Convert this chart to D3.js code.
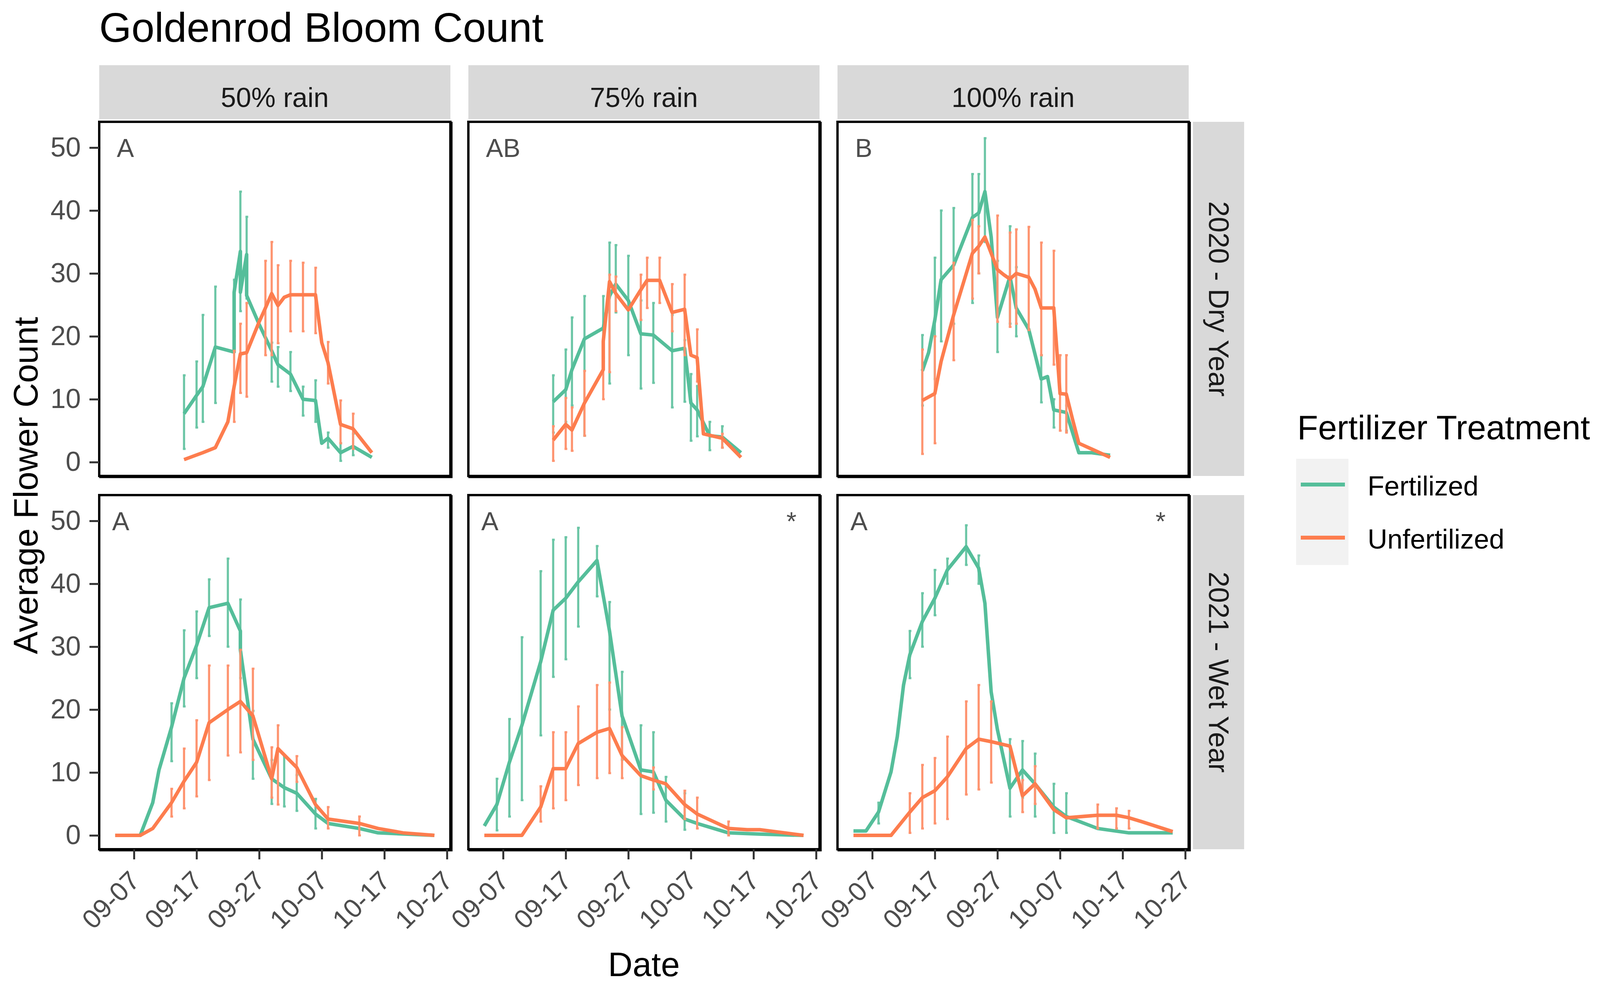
<!DOCTYPE html>
<html>
<head>
<meta charset="utf-8">
<script src="https://cdn.jsdelivr.net/npm/d3@7"></script>
<style>
    body {margin: 0; background: #fff;}
    svg {display: block; font-family: "Liberation Sans", Arial, sans-serif;}
</style>
</head>
<body>
<div id="chart"></div>
<script>
const rainLevels = ["50% rain", "75% rain", "100% rain"];
const yearLabels = ["2020 - Dry Year", "2021 - Wet Year"];
const treatments = ["Fertilized", "Unfertilized"];
const xTickLabels = ["09-07", "09-17", "09-27", "10-07", "10-17", "10-27"];
const yTickValues = [0, 10, 20, 30, 40, 50];
const groupLetters = [["A", "AB", "B"], ["A", "A", "A"]];
const starMarks = [["", "", ""], ["", "*", "*"]];

// [date, mean, lower, upper]  (lower/upper only where an error bar is drawn)
const dry50Fert = [
    ["09-15", 7.7, 2.1, 13.8], ["09-17", 10.6, 5.5, 16], ["09-18", 12, 6.4, 23.4], ["09-20", 18.3, 9.4, 27.9],
    ["09-23", 17.5], ["09-23", 27, 20, 29], ["09-24", 33.5, 24, 43], ["09-24", 27], ["09-25", 33, 26, 39],
    ["09-25", 26.5], ["09-27", 21.9], ["09-29", 17.7, 12.8, 19], ["09-30", 15.5, 12, 18.3],
    ["10-02", 14, 11.3, 17.5], ["10-04", 10, 7.4, 12], ["10-06", 9.8, 6.4, 13], ["10-07", 3.0],
    ["10-08", 3.8, 2.3, 4.7], ["10-10", 1.5, 0.2, 3.0], ["10-12", 2.5, 1.1, 4.5], ["10-15", 0.75]
];
const dry50Unfert = [
    ["09-15", 0.4], ["09-18", 1.5], ["09-20", 2.3], ["09-22", 6.4], ["09-23", 12, 6.4, 17.7],
    ["09-24", 17.2, 11, 22], ["09-25", 17.4, 10.4, 25.3], ["09-27", 22.3], ["09-28", 24.5, 17, 32],
    ["09-29", 26.8, 17, 35], ["09-30", 24.9, 18.9, 31.3], ["10-01", 26.2], ["10-02", 26.6, 20.8, 32],
    ["10-04", 26.6, 20.8, 31.7], ["10-06", 26.6, 20.5, 30.9], ["10-07", 19], ["10-08", 15.8, 12.5, 19.1],
    ["10-10", 6, 3, 9.8], ["10-12", 5.3, 2.1, 7.7], ["10-15", 1.5]
];
const dry75Fert = [
    ["09-15", 9.6, 4.7, 13.8], ["09-17", 11.5, 6.4, 17.9], ["09-18", 14.7, 9, 23], ["09-20", 19.6, 4.2, 26.4],
    ["09-23", 21.3, 16, 26.4], ["09-24", 26.4, 12.5, 34.9], ["09-25", 28.3, 23.8, 34.5], ["09-27", 25.7, 17, 32.8],
    ["09-29", 20.4, 11.7, 25.7], ["10-01", 20.2, 12.6, 25.3], ["10-04", 17.7, 8.7, 23.4], ["10-06", 18.1, 9.6, 19.4],
    ["10-07", 9.4, 3.4, 14], ["10-08", 8.3, 4.1, 12.1], ["10-10", 4.2, 1.9, 6.4], ["10-12", 4.0, 2.3, 5.7],
    ["10-15", 1.5]
];
const dry75Unfert = [
    ["09-15", 3.5, 0.2, 5.7], ["09-17", 6, 2.1, 10.2], ["09-18", 5.1, 1.8, 8.7], ["09-20", 9.4, 4.2, 14.5],
    ["09-23", 14.7, 10, 16.6], ["09-23", 19.2], ["09-24", 28.7, 14.3, 29.8], ["09-25", 26.8, 24, 29.5],
    ["09-27", 24.2], ["09-29", 27.4, 22.6, 29.8], ["09-30", 28.9, 24.5, 32.5], ["10-02", 28.9, 25.3, 32.5],
    ["10-04", 23.8, 20.8, 28.3], ["10-06", 24.3, 17, 29.8], ["10-07", 17], ["10-08", 16.6, 12.8, 21.1],
    ["10-09", 4.5], ["10-12", 3.8, 2.3, 4.5], ["10-15", 0.75]
];
const dry100Fert = [
    ["09-15", 14.5, 9, 20.2], ["09-16", 17.4], ["09-17", 22.6, 13.2, 32.5], ["09-18", 29, 19.2, 40],
    ["09-20", 31.3, 22, 40.4], ["09-23", 38.9, 25.3, 45.8], ["09-24", 39.6, 30, 45.8], ["09-25", 43, 35, 51.5],
    ["09-26", 35.8], ["09-27", 23, 17.5, 32], ["09-29", 29.5, 22, 37.5], ["09-30", 24.5, 20, 31],
    ["10-02", 21.1], ["10-04", 13.2, 9.5, 17], ["10-05", 13.6], ["10-06", 8.3, 5.5, 10], ["10-08", 7.9, 5, 9],
    ["10-10", 1.5], ["10-12", 1.5], ["10-15", 1.1]
];
const dry100Unfert = [
    ["09-15", 9.8, 1.3, 17.9], ["09-17", 10.9, 3, 20], ["09-18", 16], ["09-20", 23.4, 16.2, 31.7],
    ["09-23", 33.2, 26, 38.5], ["09-24", 34.3, 30, 37.5], ["09-25", 35.8], ["09-27", 30.6, 22.3, 39.2],
    ["09-28", 29.8], ["09-29", 29.1, 21.5, 36.5], ["09-30", 30, 22, 37], ["10-02", 29.4, 21, 37.4],
    ["10-03", 27.5], ["10-04", 24.5, 17, 34.9], ["10-06", 24.5, 15.5, 33.6], ["10-07", 10.9, 5, 17],
    ["10-08", 10.8, 4.7, 17], ["10-09", 6.8], ["10-10", 3], ["10-15", 0.75]
];
const wet50Fert = [
    ["09-04", 0], ["09-08", 0], ["09-10", 5.2], ["09-11", 10.4], ["09-13", 17.2, 11.8, 21],
    ["09-15", 25, 20.5, 32.6], ["09-17", 30.2, 25, 35.6], ["09-19", 36.2, 31.7, 40.7], ["09-22", 36.9, 30, 44],
    ["09-24", 32.5, 25, 37.5], ["09-24", 29.5], ["09-26", 15.3, 9, 19.8], ["09-29", 9, 5, 12],
    ["10-01", 7.6, 4.6, 12.6], ["10-03", 6.7, 3.9, 9.6], ["10-06", 3.4, 1.1, 5.8], ["10-08", 1.9],
    ["10-13", 1.1], ["10-16", 0.4], ["10-25", 0]
];
const wet50Unfert = [
    ["09-04", 0], ["09-08", 0], ["09-10", 1.1], ["09-13", 5.2, 3, 7.4], ["09-15", 8.6, 4.3, 13.8],
    ["09-17", 11.6, 6.2, 18.3], ["09-19", 17.9, 8.8, 27], ["09-22", 20, 12.7, 27], ["09-24", 21.3, 13.2, 29.5],
    ["09-26", 19, 12, 26.5], ["09-29", 9, 6, 14], ["09-30", 13.8, 4.9, 17.5], ["10-03", 10.8, 8.5, 12.6],
    ["10-06", 4.9], ["10-08", 2.6, 1.1, 4.5], ["10-13", 1.9, 0, 3], ["10-16", 1.1], ["10-20", 0.4], ["10-25", 0]
];
const wet75Fert = [
    ["09-04", 1.5], ["09-06", 4.9, 0.8, 9], ["09-08", 11.6, 3, 18.5], ["09-10", 17.5, 5.6, 31.5],
    ["09-13", 27.6, 15.9, 42], ["09-15", 35.8, 25.2, 47], ["09-17", 37.7, 28, 47.4], ["09-19", 40.3, 33.2, 48.9],
    ["09-22", 43.7, 38, 46], ["09-24", 32.5, 20, 37.1], ["09-26", 19, 12, 26], ["09-29", 10.4, 3.4, 17.5],
    ["10-01", 10.1, 3.6, 16.4], ["10-03", 5.6, 2.2, 9.3], ["10-06", 2.6, 0.9, 6.7], ["10-08", 1.9],
    ["10-13", 0.4], ["10-18", 0.2], ["10-25", 0]
];
const wet75Unfert = [
    ["09-04", 0], ["09-10", 0], ["09-13", 4.5, 2.2, 7.8], ["09-15", 10.6, 4.3, 16.4], ["09-17", 10.6, 5.6, 16.4],
    ["09-19", 14.6, 8, 20.5], ["09-22", 16.4, 9.1, 23.9], ["09-24", 17, 9.9, 24.3], ["09-26", 12.7, 9.1, 17.2],
    ["09-29", 9.5], ["10-01", 8.8, 7.3, 10.8], ["10-03", 8.2], ["10-06", 4.9, 2.6, 7.1], ["10-08", 3.4, 1.1, 6],
    ["10-13", 1.1, 0, 2.2], ["10-16", 0.9], ["10-18", 0.9], ["10-22", 0.4], ["10-25", 0]
];
const wet100Fert = [
    ["09-04", 0.7], ["09-06", 0.7], ["09-08", 3.7, 1.9, 5.2], ["09-10", 10.1], ["09-11", 15.7], ["09-12", 23.9],
    ["09-13", 28.7, 25, 32.5], ["09-15", 34, 30, 38.5], ["09-17", 37.7, 35, 42.2], ["09-19", 42.2, 40, 44],
    ["09-22", 45.9, 43, 49.3], ["09-24", 42.5, 40, 44.5], ["09-25", 36.9], ["09-26", 22.8], ["09-27", 16.8],
    ["09-29", 7.5, 3, 15.3], ["10-01", 10.4, 6, 15], ["10-03", 8.2, 3, 13], ["10-06", 4.5, 0.4, 8.2],
    ["10-08", 3, 0.4, 6.7], ["10-13", 1.1], ["10-18", 0.4], ["10-25", 0.4]
];
const wet100Unfert = [
    ["09-04", 0], ["09-10", 0], ["09-13", 3.7, 0.4, 6.7], ["09-15", 6, 1.1, 11.2], ["09-17", 7.1, 1.9, 12.3],
    ["09-19", 9.3, 2.6, 15.7], ["09-22", 13.8, 6.5, 21.3], ["09-24", 15.3, 7.3, 23.9], ["09-26", 14.9, 8.4, 21.3],
    ["09-29", 14.2], ["10-01", 6.3, 3.7, 8.8], ["10-03", 8.2, 5, 11], ["10-06", 4.1], ["10-08", 2.8],
    ["10-13", 3.2, 1.1, 4.9], ["10-16", 3.2, 1.1, 4.3], ["10-18", 2.8, 1.1, 3.9], ["10-20", 2.2], ["10-25", 0.6]
];

const panels = [
    [[dry50Fert, dry50Unfert], [dry75Fert, dry75Unfert], [dry100Fert, dry100Unfert]],
    [[wet50Fert, wet50Unfert], [wet75Fert, wet75Unfert], [wet100Fert, wet100Unfert]]
];

const width = 4107,
    height = 2533,
    panelW = 899,
    panelH = 907,
    colLeft = [254, 1199, 2144],
    rowTop = [312, 1268];

const lineColors = ["#55BE9A", "#FD7D4E"],
    barColors = ["#6CC6A6", "#FE9470"];
const parseDate = d3.timeParse("%m-%d");

// every point's date, to pad the x range like ggplot does (5% each side)
const allDates = panels.flat(3).map(d => parseDate(d[0]));
const [dMin, dMax] = d3.extent(allDates);
const pad = (dMax - dMin) * 0.05;

const x = d3.scaleTime()
    .domain([new Date(+dMin - pad), new Date(+dMax + pad)])
    .range([0, panelW]);

const y = d3.scaleLinear()
    .domain([-2.2, 54.1])
    .range([panelH, 0]);

const svg = d3.select("#chart").append("svg")
    .attr("width", width)
    .attr("height", height);

svg.append("rect").attr("width", width).attr("height", height).attr("fill", "#fff");

// title
svg.append("text")
    .attr("x", colLeft[0]).attr("y", 107)
    .attr("font-size", 106)
    .attr("fill", "#000")
    .text("Goldenrod Bloom Count");

// top strips
rainLevels.forEach((lab, c) => {
    svg.append("rect")
        .attr("x", colLeft[c]).attr("y", 167)
        .attr("width", panelW).attr("height", 138)
        .attr("fill", "#D9D9D9");
    svg.append("text")
        .attr("x", colLeft[c] + panelW / 2).attr("y", 250)
        .attr("text-anchor", "middle").attr("dominant-baseline", "central")
        .attr("font-size", 70).attr("fill", "#1A1A1A")
        .text(lab);
});

// right strips
yearLabels.forEach((lab, r) => {
    const sx = colLeft[2] + panelW + 11;
    svg.append("rect")
        .attr("x", sx).attr("y", rowTop[r])
        .attr("width", 131).attr("height", panelH)
        .attr("fill", "#D9D9D9");
    svg.append("text")
        .attr("transform", "translate(" + (sx + 66) + "," + (rowTop[r] + panelH / 2) + ") rotate(90)")
        .attr("text-anchor", "middle").attr("dominant-baseline", "central")
        .attr("font-size", 72).attr("fill", "#1A1A1A")
        .text(lab);
});

const line = d3.line()
    .x(d => x(parseDate(d[0])))
    .y(d => y(d[1]));

panels.forEach((row, r) => {
    row.forEach((series, c) => {
        const g = svg.append("g")
            .attr("transform", "translate(" + colLeft[c] + "," + rowTop[r] + ")");

        series.forEach((data, i) => {
            const bars = data.filter(d => d.length > 2);
            const eb = g.append("g").attr("stroke", barColors[i]).attr("stroke-width", 5.5);
            eb.selectAll("line.bar")
                .data(bars)
                .enter().append("line")
                .attr("class", "bar")
                .attr("x1", d => x(parseDate(d[0])))
                .attr("x2", d => x(parseDate(d[0])))
                .attr("y1", d => y(d[2]))
                .attr("y2", d => y(d[3]));
            // tiny caps
            [2, 3].forEach(k => {
                eb.selectAll("line.cap" + k)
                    .data(bars)
                    .enter().append("line")
                    .attr("class", "cap" + k)
                    .attr("x1", d => x(parseDate(d[0])) - 3)
                    .attr("x2", d => x(parseDate(d[0])) + 4)
                    .attr("y1", d => y(d[k]))
                    .attr("y2", d => y(d[k]));
            });

            g.append("path")
                .datum(data)
                .attr("d", line)
                .attr("fill", "none")
                .attr("stroke", lineColors[i])
                .attr("stroke-width", 9)
                .attr("stroke-linejoin", "round");
        });

        // panel border
        g.append("rect")
            .attr("width", panelW).attr("height", panelH)
            .attr("fill", "none").attr("stroke", "#000").attr("stroke-width", 6);
        g.append("path")
            .attr("d", "M0," + (panelH + 3) + "H" + (panelW + 3) + "V0")
            .attr("fill", "none").attr("stroke", "#000").attr("stroke-width", 5);

        // letters
        g.append("text")
            .attr("x", r === 0 ? 45 : 33).attr("y", 90)
            .attr("font-size", 66).attr("fill", "#4D4D4D")
            .text(groupLetters[r][c]);
        g.append("text")
            .attr("x", panelW - 72).attr("y", 90)
            .attr("text-anchor", "middle")
            .attr("font-size", 66).attr("fill", "#4D4D4D")
            .text(starMarks[r][c]);

        // y axis on the first column
        if (c === 0) {
            const ya = g.append("g")
                .call(d3.axisLeft(y).tickValues(yTickValues).tickSize(25).tickPadding(22));
            ya.select(".domain").remove();
            ya.selectAll(".tick line").attr("stroke", "#333").attr("stroke-width", 5);
            ya.selectAll(".tick text")
                .attr("font-size", 70).attr("fill", "#4D4D4D")
                .attr("font-family", "Liberation Sans, Arial, sans-serif");
        }

        // x axis on the bottom row
        if (r === 1) {
            const xa = g.append("g")
                .attr("transform", "translate(0," + panelH + ")")
                .call(d3.axisBottom(x)
                    .tickValues(xTickLabels.map(parseDate))
                    .tickFormat(d3.timeFormat("%m-%d"))
                    .tickSize(26));
            xa.select(".domain").remove();
            xa.selectAll(".tick line").attr("stroke", "#333").attr("stroke-width", 5);
            xa.selectAll(".tick text")
                .attr("font-size", 68).attr("fill", "#4D4D4D")
                .attr("font-family", "Liberation Sans, Arial, sans-serif")
                .attr("y", 0).attr("dy", 0)
                .attr("text-anchor", "end")
                .attr("dominant-baseline", "hanging")
                .attr("transform", "translate(-17,50) rotate(-45)");
        }
    });
});

// axis titles
svg.append("text")
    .attr("x", (colLeft[0] + colLeft[2] + panelW) / 2).attr("y", 2500)
    .attr("text-anchor", "middle")
    .attr("font-size", 87).attr("fill", "#000")
    .text("Date");

svg.append("text")
    .attr("transform", "translate(96," + (rowTop[0] + rowTop[1] + panelH) / 2 + ") rotate(-90)")
    .attr("text-anchor", "middle")
    .attr("font-size", 87).attr("fill", "#000")
    .text("Average Flower Count");

// legend
const legend = svg.append("g").attr("transform", "translate(3318,1175)");
legend.append("text")
    .attr("x", 3).attr("y", -50)
    .attr("font-size", 87).attr("fill", "#000")
    .text("Fertilizer Treatment");
treatments.forEach((t, i) => {
    const ky = i * 136;
    legend.append("rect")
        .attr("y", ky).attr("width", 134).attr("height", 136)
        .attr("fill", "#F2F2F2");
    legend.append("line")
        .attr("x1", 12).attr("x2", 125)
        .attr("y1", ky + 66).attr("y2", ky + 66)
        .attr("stroke", lineColors[i]).attr("stroke-width", 10);
    legend.append("text")
        .attr("x", 183).attr("y", ky + 70)
        .attr("dominant-baseline", "central")
        .attr("font-size", 70).attr("fill", "#000")
        .text(t);
});
</script>
</body>
</html>
